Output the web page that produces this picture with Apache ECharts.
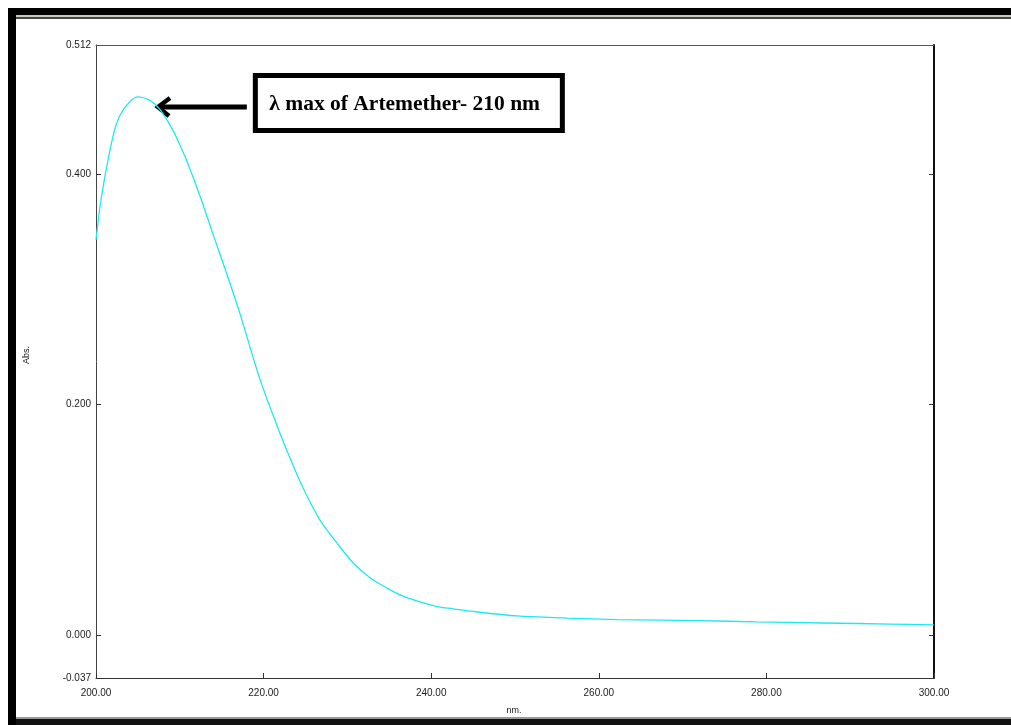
<!DOCTYPE html>
<html>
<head>
<meta charset="utf-8">
<script src="https://cdn.jsdelivr.net/npm/echarts@6/dist/echarts.min.js"></script>
<style>
html,body{margin:0;padding:0;background:#fff;}
#chart{width:1011px;height:725px;}
</style>
</head>
<body>
<div id="chart"></div>
<script>
// Wavelength (nm) and absorbance
const wavelength = [200.0, 200.5, 201.07, 202.03, 202.86, 204.06, 205.01, 206.44, 207.64, 209.19, 210.02, 210.86, 212.41, 213.96, 215.63, 217.18, 219.57, 221.96, 222.79, 224.70, 226.73, 228.76, 230.67, 232.70, 234.73, 236.63, 238.66, 240.69, 242.60, 244.63, 250.24, 256.21, 262.17, 272.08, 278.88, 286.75, 294.75, 300.0];
const absorbance = [0.343, 0.373, 0.398, 0.433, 0.451, 0.463, 0.467, 0.464, 0.456, 0.438, 0.425, 0.411, 0.381, 0.348, 0.313, 0.279, 0.222, 0.175, 0.160, 0.128, 0.100, 0.080, 0.063, 0.050, 0.041, 0.034, 0.029, 0.025, 0.023, 0.021, 0.0168, 0.015, 0.0137, 0.0127, 0.0117, 0.0107, 0.0098, 0.009];
const yLabelValues = [-0.037, 0.0, 0.2, 0.4, 0.512];
const yTickValues = [0.0, 0.2, 0.4];
const xMin = 200, xMax = 300, xStep = 20;
const yMin = -0.037, yMax = 0.512;
const annotationText = 'λ max of Artemether- 210 nm';
const arrowTip = [207.4, 0.4582];
const arrowTail = [218.0, 0.4582];
const xName = 'nm.';
const yName = 'Abs.';

const chart = echarts.init(document.getElementById('chart'), null, {renderer: 'canvas'});
const series = wavelength.map((w, i) => [w, absorbance[i]]);
const lblFont = {fontFamily: 'Liberation Sans, Arial, sans-serif', fontSize: 10, color: '#222'};

const option = {
  backgroundColor: '#fff',
  animation: false,
  grid: {left: 96, top: 45, width: 838, height: 633, show: false},
  xAxis: [{
    type: 'value', min: xMin, max: xMax, interval: xStep,
    axisLine: {show: true, onZero: false, lineStyle: {color: '#333', width: 1}},
    axisTick: {show: true, inside: true, length: 5, lineStyle: {color: '#333'}},
    axisLabel: Object.assign({margin: 10, formatter: v => v.toFixed(2), showMinLabel: true, showMaxLabel: true}, lblFont),
    splitLine: {show: false}
  }, {
    type: 'value', position: 'top', min: xMin, max: xMax,
    axisLine: {show: true, onZero: false, lineStyle: {color: '#555', width: 1}},
    axisTick: {show: false}, axisLabel: {show: false}, splitLine: {show: false}
  }],
  yAxis: [{
    type: 'value', min: yMin, max: yMax,
    axisLine: {show: true, onZero: false, lineStyle: {color: '#444', width: 1}},
    axisTick: {show: true, inside: true, length: 5, customValues: yTickValues, lineStyle: {color: '#333'}},
    axisLabel: Object.assign({margin: 5, customValues: yLabelValues, formatter: v => v.toFixed(3)}, lblFont),
    splitLine: {show: false}
  }, {
    type: 'value', position: 'right', min: yMin, max: yMax,
    axisLine: {show: true, onZero: false, lineStyle: {color: '#111', width: 2}},
    axisTick: {show: true, inside: true, length: 5, customValues: yTickValues, lineStyle: {color: '#333'}},
    axisLabel: {show: false}, splitLine: {show: false}
  }],
  series: [{
    type: 'line', xAxisIndex: 0, yAxisIndex: 0,
    data: series, smooth: 0.3, showSymbol: false,
    lineStyle: {color: '#1de9ef', width: 1.3}
  }]
};
chart.setOption(option);

const tip = chart.convertToPixel({gridIndex: 0}, arrowTip);
const tail = chart.convertToPixel({gridIndex: 0}, arrowTail);
const boxX = tail[0] + 8.5, boxY = tip[1] - 31.5, boxW = 307, boxH = 55;

chart.setOption({
  graphic: [
    // outer frame
    {type: 'rect', shape: {x: 8, y: 8, width: 1003, height: 8}, style: {fill: '#000'}, silent: true},
    {type: 'rect', shape: {x: 16, y: 15, width: 995, height: 2}, style: {fill: '#c9c9bd'}, silent: true},
    {type: 'rect', shape: {x: 16, y: 17, width: 995, height: 2}, style: {fill: '#444'}, silent: true},
    {type: 'rect', shape: {x: 8, y: 8, width: 8, height: 717}, style: {fill: '#000'}, silent: true},
    {type: 'rect', shape: {x: 16, y: 717, width: 995, height: 2}, style: {fill: '#999'}, silent: true},
    {type: 'rect', shape: {x: 16, y: 719, width: 995, height: 6}, style: {fill: '#111'}, silent: true},
    // axis names
    {type: 'text', x: 27, y: 355, rotation: Math.PI / 2, style: {text: yName, fontFamily: 'Liberation Sans, Arial, sans-serif', fontSize: 9, fill: '#222', align: 'center', verticalAlign: 'middle'}},
    {type: 'text', x: 514, y: 711, style: {text: xName, fontFamily: 'Liberation Sans, Arial, sans-serif', fontSize: 9, fill: '#222', align: 'center', verticalAlign: 'middle'}},
    // arrow
    {type: 'line', shape: {x1: tip[0] + 3, y1: tip[1], x2: tail[0], y2: tail[1]}, style: {stroke: '#000', lineWidth: 5}},
    {type: 'polyline', shape: {points: [[tip[0] + 12, tip[1] - 9], [tip[0], tip[1]], [tip[0] + 11, tip[1] + 9]]}, style: {stroke: '#000', lineWidth: 4.5, fill: null, lineJoin: 'miter'}},
    // annotation box
    {type: 'rect', shape: {x: boxX, y: boxY, width: boxW, height: boxH}, style: {fill: '#fff', stroke: '#000', lineWidth: 5}},
    {type: 'text', x: boxX + 14, y: boxY + boxH / 2 + 1, style: {text: annotationText, fontFamily: 'Liberation Serif, Times New Roman, serif', fontWeight: 'bold', fontSize: 21.5, fill: '#000', align: 'left', verticalAlign: 'middle'}}
  ]
});
</script>
</body>
</html>
